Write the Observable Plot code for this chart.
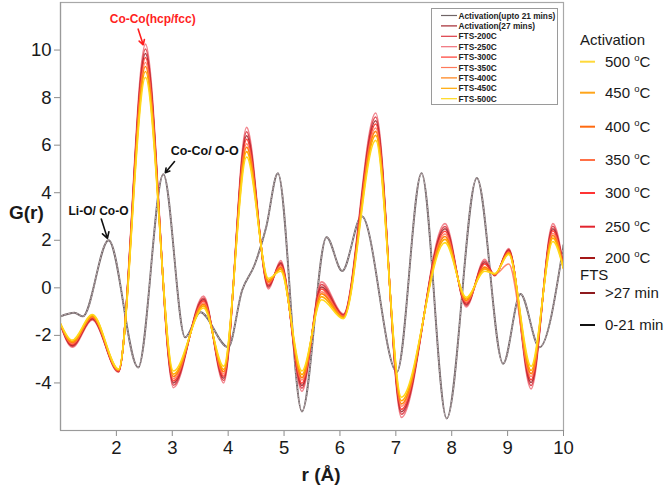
<!DOCTYPE html>
<html>
<head>
<meta charset="utf-8">
<script src="https://cdn.jsdelivr.net/npm/d3@7"></script>
<script src="https://cdn.jsdelivr.net/npm/@observablehq/plot@0.6"></script>
<style>
  html, body { margin: 0; padding: 0; background: #fff; }
  #wrap { position: relative; width: 666px; height: 486px; font-family: "Liberation Sans", Arial, sans-serif; }
  #wrap > svg { position: absolute; left: 0; top: 0; }
</style>
</head>
<body>
<div id="wrap"></div>
<script>
// Pair distribution function G(r) during activation and FTS

// r grid (Å) for the early activation pattern (LiCoO2-like)
const rEarly = [1.00, 1.25, 1.40, 1.86, 2.39, 2.84, 3.23, 3.50, 4.00, 4.25, 4.47, 4.68, 4.89, 5.32, 5.76, 6.04, 6.39, 7.02, 7.46, 7.91, 8.45, 8.92, 9.23, 9.57, 10.00];
const gAct21 = [-1.20, -1.05, -1.20, 2.00, -3.35, 4.78, -2.08, -1.03, -2.50, -0.10, 0.95, 2.55, 4.82, -5.20, 2.13, 0.71, 3.01, -3.54, 4.82, -5.50, 4.62, -3.19, -0.26, -2.50, 1.80];

// r grid (Å) for the metallic Co patterns
const rCo = [1.00, 1.21, 1.57, 2.04, 2.52, 3.02, 3.56, 3.92, 4.33, 4.72, 4.94, 5.32, 5.67, 6.06, 6.64, 7.10, 7.88, 8.26, 8.59, 8.77, 9.02, 9.42, 9.81, 10.00];
const gAct27  = [-1.54, -2.42, -1.29, -3.51, 9.86, -4.00, -0.49, -3.80, 6.40, 0.08, 1.02, -4.11, 0.04, -1.16, 7.03, -5.21, 2.48, -0.69, 1.06, 0.53, 1.58, -3.98, 2.49, 0.87];
const gFts200 = [-1.54, -2.46, -1.32, -3.53, 10.04, -4.10, -0.43, -3.90, 6.56, 0.02, 1.08, -4.22, 0.14, -1.13, 7.18, -5.32, 2.58, -0.74, 1.13, 0.52, 1.61, -4.11, 2.59, 0.89];
const gFts250 = [-1.55, -2.50, -1.35, -3.55, 10.25, -4.20, -0.35, -4.00, 6.75, -0.05, 1.15, -4.35, 0.25, -1.10, 7.35, -5.45, 2.70, -0.80, 1.20, 0.50, 1.65, -4.25, 2.70, 0.90];
const gFts300 = [-1.53, -2.38, -1.26, -3.50, 9.69, -3.92, -0.55, -3.72, 6.25, 0.13, 0.97, -4.01, -0.05, -1.18, 6.89, -5.11, 2.38, -0.64, 1.00, 0.54, 1.55, -3.87, 2.40, 0.86];
const gFts350 = [-1.52, -2.34, -1.22, -3.48, 9.48, -3.82, -0.63, -3.62, 6.06, 0.20, 0.90, -3.88, -0.16, -1.21, 6.72, -4.98, 2.26, -0.58, 0.80, 0.56, 1.00, -3.73, 2.29, 0.85];
const gFts400 = [-1.52, -2.30, -1.20, -3.46, 9.31, -3.73, -0.69, -3.53, 5.91, 0.25, 0.85, -3.78, -0.25, -1.23, 6.58, -4.88, 2.16, -0.53, 0.87, 0.57, 1.48, -3.61, 2.20, 0.83];
const gFts450 = [-1.51, -2.25, -1.16, -3.44, 9.10, -3.63, -0.76, -3.43, 5.73, 0.32, 0.78, -3.65, -0.37, -1.26, 6.41, -4.75, 2.04, -0.47, 0.79, 0.58, 1.45, -3.47, 2.09, 0.82];
const gFts500 = [-1.50, -2.20, -1.12, -3.42, 8.85, -3.50, -0.85, -3.30, 5.50, 0.40, 0.70, -3.50, -0.50, -1.30, 6.20, -4.60, 1.90, -0.40, 0.70, 0.60, 1.40, -3.30, 1.95, 0.80];

const seriesNames = ["Activation(upto 21 mins)", "Activation(27 mins)", "FTS-200C", "FTS-250C", "FTS-300C", "FTS-350C", "FTS-400C", "FTS-450C", "FTS-500C"];
const seriesColors = ["#6f6466", "#a3262e", "#dc3a44", "#f0707a", "#ff3a30", "#ff7a5a", "#ff7f10", "#ffa800", "#ffd81a"];

// Right-hand legend
const sideLabels = ["500 ", "450 ", "400 ", "350 ", "300 ", "250 ", "200 "];
const sideColors = ["#ffd93a", "#ffa51a", "#ff6a10", "#ff7046", "#ff3434", "#e2242e", "#a51818"];
const ftsLabels = [">27 min", "0-21 min"];
const ftsColors = ["#8e1a1e", "#111111"];

// Peak assignments
const notes = [
  {text: "Co-Co(hcp/fcc)", x: 2.65, y: 11.3, x1: 2.39, y1: 10.88, x2: 2.48, y2: 10.22, color: "#ff1f1f", size: 12},
  {text: "Co-Co/ O-O", x: 3.58, y: 5.77, x1: 3.04, y1: 5.31, x2: 2.875, y2: 4.84, color: "#111", size: 12.5},
  {text: "Li-O/ Co-O", x: 1.68, y: 3.22, x1: 1.73, y1: 2.89, x2: 1.84, y2: 2.08, color: "#111", size: 12}
];

const toRows = (rs, gs) => rs.map((r, i) => ({r, g: gs[i]}));
const early = toRows(rEarly, gAct21);
const coSeries = [
  {name: "FTS-250C", g: gFts250, w: 1.6, o: 0.85},
  {name: "FTS-200C", g: gFts200, w: 1.5, o: 0.9},
  {name: "Activation(27 mins)", g: gAct27, w: 1.5, o: 0.9},
  {name: "FTS-300C", g: gFts300, w: 1.6, o: 0.95},
  {name: "FTS-350C", g: gFts350, w: 1.5, o: 0.9},
  {name: "FTS-400C", g: gFts400, w: 1.6, o: 1},
  {name: "FTS-450C", g: gFts450, w: 1.6, o: 1},
  {name: "FTS-500C", g: gFts500, w: 1.6, o: 1}
];
const colorOf = name => seriesColors[seriesNames.indexOf(name)];

const chart = Plot.plot({
  width: 666,
  height: 486,
  marginLeft: 60,
  marginRight: 103,
  marginTop: 2,
  marginBottom: 56,
  style: {fontFamily: "'Liberation Sans', Arial, sans-serif", fontSize: "18px", color: "#1a1a1a", background: "transparent"},
  x: {domain: [1, 10]},
  y: {domain: [-6, 12]},
  marks: [
    Plot.frame({stroke: "#a8a8a8", strokeWidth: 1.2}),
    Plot.line(early, {x: "r", y: "g", curve: "monotone-x", stroke: colorOf("Activation(upto 21 mins)"), strokeWidth: 1.9, clip: true}),
    Plot.line(early, {x: "r", y: "g", curve: "monotone-x", stroke: "#c7b6b9", strokeWidth: 0.9, strokeDasharray: "2,2", clip: true}),
    ...coSeries.map(s => Plot.line(toRows(rCo, s.g), {
      x: "r", y: "g", curve: "monotone-x", stroke: colorOf(s.name), strokeWidth: s.w, strokeOpacity: s.o, clip: true
    })),
    Plot.arrow(notes, {x1: "x1", y1: "y1", x2: "x2", y2: "y2", stroke: "color", strokeWidth: 1.6, headLength: 7}),
    Plot.text(notes, {x: "x", y: "y", text: "text", fill: "color", fontWeight: "bold", fontSize: "size"}),
    Plot.axisX({ticks: d3.range(2, 11), tickSize: 6, tickPadding: 4, fontSize: 18.5, stroke: "#8c8c8c", label: null, tickFormat: d3.format("d")}),
    Plot.axisY({ticks: d3.range(-4, 11, 2), tickSize: 6, tickPadding: 3, fontSize: 18.5, stroke: "#8c8c8c", label: null, tickFormat: d => String(d).replace("\u2212", "-")}),
    Plot.ruleX([1], {stroke: "#9a9a9a", strokeWidth: 1.2}),
    Plot.ruleY([-6], {stroke: "#9a9a9a", strokeWidth: 1.2})
  ]
});
chart.querySelectorAll("text").forEach(t => { t.textContent = t.textContent.replace("\u2212", "-"); });
document.getElementById("wrap").appendChild(chart);

// Overlay: axis titles and legends
const svg = d3.select("#wrap").append("svg")
  .attr("width", 666).attr("height", 486)
  .style("font-family", "'Liberation Sans', Arial, sans-serif");

svg.append("text").attr("x", 9).attr("y", 219).attr("font-size", 19).attr("font-weight", "bold").attr("fill", "#1a1a1a").text("G(r)");
svg.append("text").attr("x", 321).attr("y", 481).attr("text-anchor", "middle").attr("font-size", 19).attr("font-weight", "bold").attr("fill", "#1a1a1a").text("r (Å)");

// In-plot legend box
const box = svg.append("g");
box.append("rect").attr("x", 431.5).attr("y", 8.5).attr("width", 126).attr("height", 96)
  .attr("fill", "#fff").attr("stroke", "#9a9a9a").attr("stroke-width", 1);
seriesNames.forEach((name, i) => {
  const y = 15.5 + i * 10.4;
  box.append("line").attr("x1", 441).attr("x2", 457).attr("y1", y).attr("y2", y)
    .attr("stroke", seriesColors[i]).attr("stroke-width", 1.2);
  box.append("text").attr("x", 458.5).attr("y", y + 3).attr("font-size", 8.3).attr("font-weight", "bold")
    .attr("fill", "#222").text(name);
});

// Side legend
const side = svg.append("g").attr("fill", "#1a1a1a");
side.append("text").attr("x", 580).attr("y", 45).attr("font-size", 15).text("Activation");
const addEntry = (y, color, label, degree) => {
  side.append("line").attr("x1", 580).attr("x2", 595).attr("y1", y).attr("y2", y)
    .attr("stroke", color).attr("stroke-width", 2);
  const t = side.append("text").attr("x", 605).attr("y", y + 5).attr("font-size", 15);
  if (degree) {
    t.append("tspan").text(label);
    t.append("tspan").attr("font-size", 9.5).attr("dy", -6).text("o");
    t.append("tspan").attr("dy", 6).text("C");
  } else {
    t.text(label);
  }
};
const sideY = [61.7, 92.7, 126.7, 160, 193, 226.7, 258];
sideLabels.forEach((l, i) => addEntry(sideY[i], sideColors[i], l, true));
side.append("text").attr("x", 580).attr("y", 280).attr("font-size", 15).text("FTS");
addEntry(293, ftsColors[0], ftsLabels[0], false);
addEntry(325, ftsColors[1], ftsLabels[1], false);
</script>
</body>
</html>
